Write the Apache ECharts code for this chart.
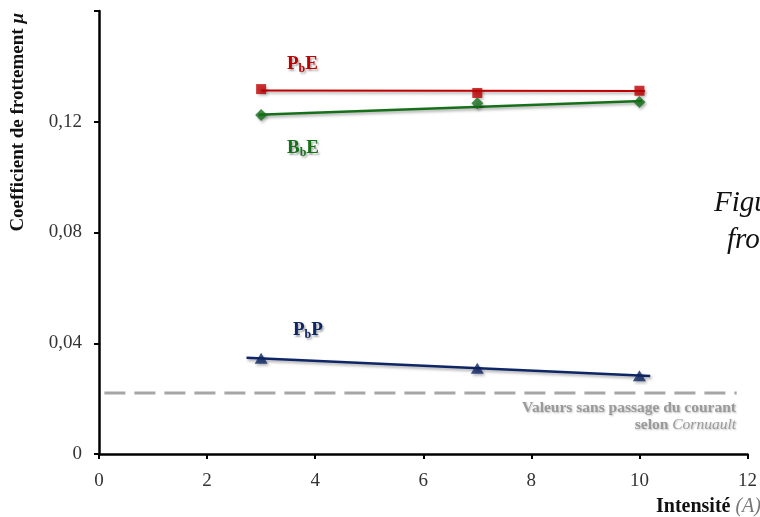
<!DOCTYPE html>
<html>
<head>
<meta charset="utf-8">
<script src="https://cdn.jsdelivr.net/npm/echarts@6/dist/echarts.min.js"></script>
<style>html,body{margin:0;padding:0;background:#fff;}#c{width:760px;height:517px;}</style>
</head>
<body>
<div id="c"></div>
<script>
// Data
const intensities = [3, 7, 10];
const pbE = [0.1318, 0.1304, 0.1312];
const bbE = [0.1224, 0.1267, 0.1271];
const pbP = [0.0346, 0.0310, 0.0283];
// trend lines (endpoints)
const pbETrend = [[3.0, 0.1313], [10.1, 0.1311]];
const bbETrend = [[2.95, 0.1225], [10.05, 0.1275]];
const pbPTrend = [[2.73, 0.0348], [10.2, 0.0282]];
// reference value without current (Cornuault)
const refLine = [[0.1, 0.022], [11.8, 0.022]];
const xTicks = [0, 2, 4, 6, 8, 10, 12];
const yTicks = [0, 0.04, 0.08, 0.12, 0.16];

const RED = '#C00000', GREEN = '#16701A', NAVY = '#0E2566';
const SERIF = '"Liberation Serif", "DejaVu Serif", serif';

const chart = echarts.init(document.getElementById('c'), null, {renderer: 'canvas'});

function pts(xs, ys) { return xs.map((x, i) => [x, ys[i]]); }

const shadow = {shadowColor: 'rgba(0,0,0,0.35)', shadowBlur: 3, shadowOffsetX: 1.5, shadowOffsetY: 2};
const tshadow = {textShadowColor: 'rgba(0,0,0,0.35)', textShadowBlur: 2, textShadowOffsetX: 1.5, textShadowOffsetY: 1.5};

function seriesLabel(main, sub, tail, color, left, top) {
  return {
    type: 'text', left: left, top: top, z: 100,
    style: {
      text: '{m|' + main + '}{s|' + sub + '}{m|' + tail + '}',
      rich: {
        m: Object.assign({fontFamily: SERIF, fontWeight: 'bold', fontSize: 19, fill: color}, tshadow),
        s: Object.assign({fontFamily: SERIF, fontWeight: 'bold', fontSize: 12, fill: color, padding: [9, 0, 0, 0]}, tshadow)
      }
    }
  };
}

chart.setOption({
  animation: false,
  backgroundColor: '#fff',
  grid: {left: 99, right: 10, top: 11, bottom: 63, containLabel: false},
  xAxis: {
    type: 'value', min: 0, max: 12, interval: 2,
    axisLine: {show: true, onZero: false, lineStyle: {color: '#000', width: 2.5}},
    axisTick: {show: true, inside: false, length: 5, lineStyle: {color: '#000', width: 2}},
    splitLine: {show: false},
    axisLabel: {color: '#333', fontFamily: SERIF, fontSize: 19, margin: 18,
      formatter: v => xTicks.includes(v) ? String(v) : ''}
  },
  yAxis: {
    type: 'value', min: 0, max: 0.16, interval: 0.04,
    axisLine: {show: true, lineStyle: {color: '#000', width: 2.5}},
    axisTick: {show: true, inside: false, length: 5, lineStyle: {color: '#000', width: 2}},
    splitLine: {show: false},
    axisLabel: {color: '#333', fontFamily: SERIF, fontSize: 19, margin: 17,
      formatter: v => (Math.abs(v - 0.16) < 1e-9 || !yTicks.some(t => Math.abs(t - v) < 1e-9)) ? '' :
        (v === 0 ? '0' : v.toFixed(2).replace('.', ','))}
  },
  series: [
    {type: 'line', data: refLine, symbol: 'none', silent: true, z: 1,
     lineStyle: {color: '#A6A6A6', width: 3, type: [21, 9]}},
    {type: 'line', data: pbETrend, symbol: 'none', z: 2, lineStyle: Object.assign({color: RED, width: 2}, shadow)},
    {type: 'line', data: bbETrend, symbol: 'none', z: 2, lineStyle: Object.assign({color: GREEN, width: 2.5}, shadow)},
    {type: 'line', data: pbPTrend, symbol: 'none', z: 2, lineStyle: Object.assign({color: NAVY, width: 2.5}, shadow)},
    {type: 'scatter', data: pts(intensities, pbE), symbol: 'rect', symbolSize: 10, z: 5,
     itemStyle: Object.assign({color: RED}, shadow)},
    {type: 'scatter', data: pts(intensities, bbE), symbol: 'diamond', symbolSize: [12, 12], z: 5,
     itemStyle: Object.assign({color: GREEN}, shadow)},
    {type: 'scatter', data: pts(intensities, pbP), symbol: 'triangle', symbolSize: [13, 11], z: 5,
     itemStyle: Object.assign({color: NAVY}, shadow)}
  ],
  graphic: [
    seriesLabel('P', 'b', 'E', RED, 287, 55),
    seriesLabel('B', 'b', 'E', GREEN, 287, 139),
    seriesLabel('P', 'b', 'P', NAVY, 293, 321),
    {type: 'text', left: 9, top: 13, rotation: Math.PI / 2, z: 50,
     style: {
       text: '{b|Coefficient de frottement }{i|μ}',
       rich: {
         b: {fontFamily: SERIF, fontWeight: 'bold', fontSize: 19, fill: '#111'},
         i: {fontFamily: SERIF, fontWeight: 'bold', fontStyle: 'italic', fontSize: 19, fill: '#111'}
       }
     }},
    {type: 'text', left: 656, top: 497,
     style: {
       text: '{b|Intensité }{i|(A)}',
       rich: {
         b: {fontFamily: SERIF, fontWeight: 'bold', fontSize: 20, fill: '#111'},
         i: {fontFamily: SERIF, fontStyle: 'italic', fontSize: 20, fill: '#777'}
       }
     }},
    {type: 'text', right: 24, top: 399,
     style: {
       text: '{b|Valeurs sans passage du courant}\n{b|selon }{i|Cornuault}',
       align: 'right', lineHeight: 17,
       rich: {
         b: {fontFamily: SERIF, fontWeight: 'bold', fontSize: 15.5, fill: '#9A9A9A', align: 'right', lineHeight: 17,
             textShadowColor: 'rgba(0,0,0,0.25)', textShadowBlur: 2, textShadowOffsetX: 1, textShadowOffsetY: 1},
         i: {fontFamily: SERIF, fontStyle: 'italic', fontSize: 15.5, fill: '#9A9A9A', align: 'right', lineHeight: 17,
             textShadowColor: 'rgba(0,0,0,0.25)', textShadowBlur: 2, textShadowOffsetX: 1, textShadowOffsetY: 1}
       }
     }},
    {type: 'text', x: 714, y: 189, z: 50,
     style: {text: 'Figure', fontFamily: SERIF, fontStyle: 'italic', fontSize: 29, fill: '#111'}},
    {type: 'text', x: 727, y: 226, z: 50,
     style: {text: 'frottement', fontFamily: SERIF, fontStyle: 'italic', fontSize: 29, fill: '#111'}}
  ]
});
</script>
</body>
</html>
